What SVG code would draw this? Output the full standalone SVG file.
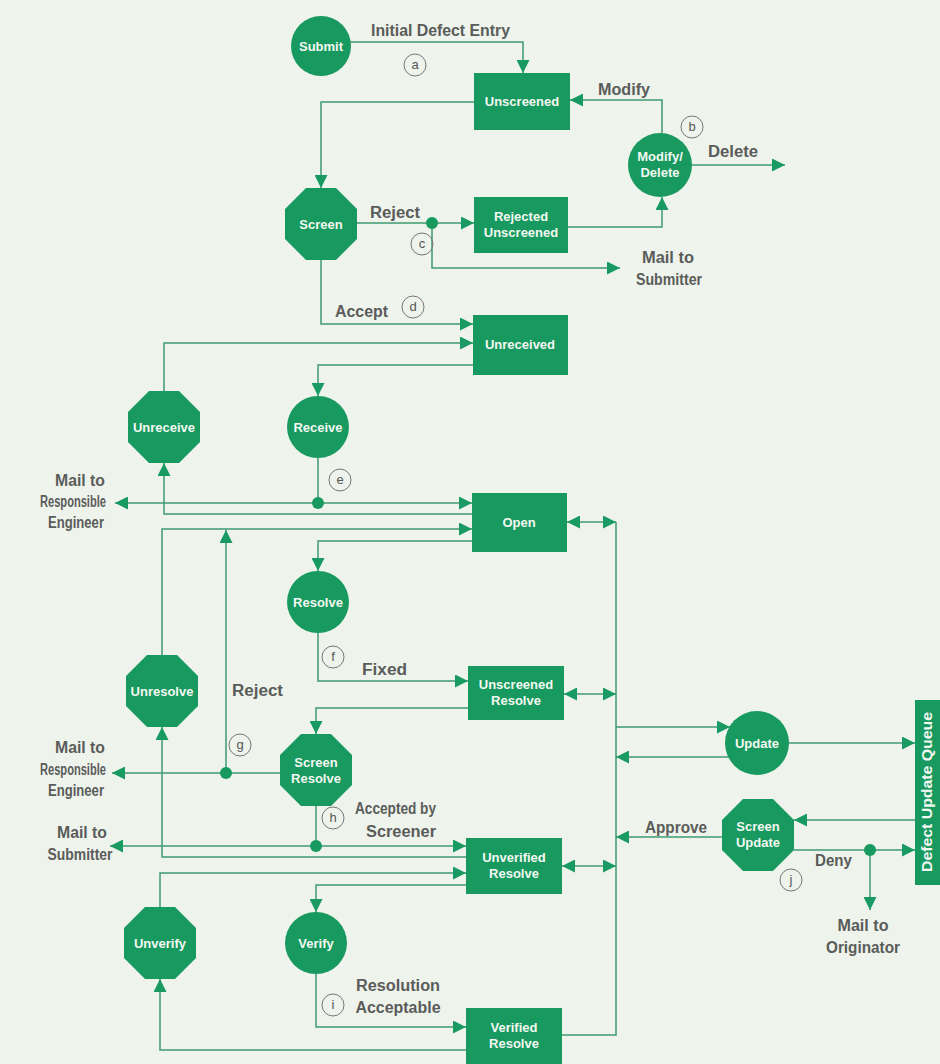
<svg xmlns="http://www.w3.org/2000/svg" width="940" height="1064" viewBox="0 0 940 1064">
<style>
.nd{fill:#17995f}
.nt{fill:#f4f8f2;font-family:"Liberation Sans Narrow","Liberation Sans",Arial,sans-serif;font-weight:bold;font-size:13px;text-anchor:middle}
.lb{fill:#5a5c5a;font-family:"Liberation Sans Narrow","Liberation Sans",Arial,sans-serif;font-weight:bold;font-size:16px}
.mid{text-anchor:middle}
.ln{fill:none;stroke:#3f9a70;stroke-width:1.5}
.ar{marker-end:url(#ah)}
.da{marker-start:url(#ah);marker-end:url(#ah)}
.dot{fill:#17995f}
.lc{fill:none;stroke:#777;stroke-width:1}
.lt{fill:#555;font-family:"Liberation Sans",Arial,sans-serif;font-size:13px;text-anchor:middle}
</style>
<defs>
<marker id="ah" markerUnits="userSpaceOnUse" markerWidth="13" markerHeight="13" refX="12" refY="6" orient="auto-start-reverse" viewBox="0 0 12 12">
<path d="M0,0 L12,6 L0,12 z" fill="#1a9a63"/>
</marker>
</defs>
<rect width="940" height="1064" fill="#eef3ec"/>

<g id="connectors">
<path class="ln ar" d="M350,42 H523 V73"/>
<path class="ln ar" d="M474,102 H321 V188"/>
<path class="ln ar" d="M662,133 V100 H570"/>
<path class="ln ar" d="M692,165 H785"/>
<path class="ln ar" d="M357,223 H474"/>
<path class="ln ar" d="M568,227 H662 V197"/>
<path class="ln ar" d="M432,223 V268 H620"/>
<path class="ln ar" d="M321,260 V324 H473"/>
<path class="ln ar" d="M164,391 V343 H473"/>
<path class="ln ar" d="M473,365 H318 V396"/>
<path class="ln" d="M318,458 V503"/>
<path class="ln ar" d="M318,503 H472"/>
<path class="ln ar" d="M318,503 H115"/>
<path class="ln ar" d="M472,514 H164 V463"/>
<path class="ln ar" d="M162,655 V529 H472"/>
<path class="ln ar" d="M226,773 V530"/>
<path class="ln ar" d="M472,541 H318 V571"/>
<path class="ln ar" d="M318,633 V681 H468"/>
<path class="ln ar" d="M468,708 H316 V734"/>
<path class="ln ar" d="M280,773 H112"/>
<path class="ln" d="M316,806 V846"/>
<path class="ln ar" d="M316,846 H466"/>
<path class="ln ar" d="M316,846 H110"/>
<path class="ln ar" d="M466,857 H162 V727"/>
<path class="ln ar" d="M160,907 V873 H466"/>
<path class="ln ar" d="M466,885 H316 V912"/>
<path class="ln ar" d="M316,974 V1027 H466"/>
<path class="ln ar" d="M466,1050 H160 V979"/>
<path class="ln" d="M562,1035 H616 V522"/>
<path class="ln da" d="M567,522 H616"/>
<path class="ln da" d="M564,694 H616"/>
<path class="ln da" d="M562,866 H616"/>
<path class="ln ar" d="M616,727 H730"/>
<path class="ln ar" d="M730,757 H616"/>
<path class="ln ar" d="M789,743 H915"/>
<path class="ln ar" d="M915,820 H794"/>
<path class="ln ar" d="M722,837 H616"/>
<path class="ln ar" d="M794,850 H915"/>
<path class="ln ar" d="M870,850 V910"/>
<circle class="dot" cx="432" cy="223" r="6"/>
<circle class="dot" cx="318" cy="503" r="6"/>
<circle class="dot" cx="226" cy="773" r="6"/>
<circle class="dot" cx="316" cy="846" r="6"/>
<circle class="dot" cx="870" cy="850" r="6"/>
</g>

<g id="labels">
<text class="lb" x="371" y="36" textLength="139" lengthAdjust="spacingAndGlyphs">Initial Defect Entry</text>
<text class="lb" x="598" y="95" textLength="52" lengthAdjust="spacingAndGlyphs">Modify</text>
<text class="lb" x="708" y="157" textLength="50" lengthAdjust="spacingAndGlyphs">Delete</text>
<text class="lb" x="370" y="218" textLength="50" lengthAdjust="spacingAndGlyphs">Reject</text>
<text class="lb mid" x="668" y="263" textLength="52" lengthAdjust="spacingAndGlyphs">Mail to</text>
<text class="lb mid" x="669" y="285" textLength="66" lengthAdjust="spacingAndGlyphs">Submitter</text>
<text class="lb" x="335" y="317" textLength="53" lengthAdjust="spacingAndGlyphs">Accept</text>
<text class="lb mid" x="80" y="486" textLength="50" lengthAdjust="spacingAndGlyphs">Mail to</text>
<text class="lb mid" x="73" y="507" textLength="66" lengthAdjust="spacingAndGlyphs">Responsible</text>
<text class="lb mid" x="76" y="528" textLength="56" lengthAdjust="spacingAndGlyphs">Engineer</text>
<text class="lb" x="362" y="675" textLength="45" lengthAdjust="spacingAndGlyphs">Fixed</text>
<text class="lb" x="232" y="696" textLength="51" lengthAdjust="spacingAndGlyphs">Reject</text>
<text class="lb mid" x="80" y="753" textLength="50" lengthAdjust="spacingAndGlyphs">Mail to</text>
<text class="lb mid" x="73" y="775" textLength="66" lengthAdjust="spacingAndGlyphs">Responsible</text>
<text class="lb mid" x="76" y="796" textLength="56" lengthAdjust="spacingAndGlyphs">Engineer</text>
<text class="lb" x="355" y="814" textLength="81" lengthAdjust="spacingAndGlyphs">Accepted by</text>
<text class="lb mid" x="401" y="837" textLength="70" lengthAdjust="spacingAndGlyphs">Screener</text>
<text class="lb mid" x="82" y="838" textLength="50" lengthAdjust="spacingAndGlyphs">Mail to</text>
<text class="lb mid" x="80" y="860" textLength="65" lengthAdjust="spacingAndGlyphs">Submitter</text>
<text class="lb mid" x="398" y="991" textLength="84" lengthAdjust="spacingAndGlyphs">Resolution</text>
<text class="lb mid" x="398" y="1013" textLength="85" lengthAdjust="spacingAndGlyphs">Acceptable</text>
<text class="lb" x="645" y="833" textLength="62" lengthAdjust="spacingAndGlyphs">Approve</text>
<text class="lb" x="815" y="866" textLength="37" lengthAdjust="spacingAndGlyphs">Deny</text>
<text class="lb mid" x="863" y="931" textLength="51" lengthAdjust="spacingAndGlyphs">Mail to</text>
<text class="lb mid" x="863" y="953" textLength="74" lengthAdjust="spacingAndGlyphs">Originator</text>
</g>

<g id="markers-letters">
<circle class="lc" cx="415" cy="65" r="11"/><text class="lt" x="415" y="69">a</text>
<circle class="lc" cx="692" cy="127" r="11"/><text class="lt" x="692" y="131">b</text>
<circle class="lc" cx="422" cy="244" r="11"/><text class="lt" x="422" y="248">c</text>
<circle class="lc" cx="413" cy="307" r="11"/><text class="lt" x="413" y="311">d</text>
<circle class="lc" cx="340" cy="480" r="11"/><text class="lt" x="340" y="484">e</text>
<circle class="lc" cx="333" cy="657" r="11"/><text class="lt" x="333" y="661">f</text>
<circle class="lc" cx="240" cy="745" r="11"/><text class="lt" x="240" y="749">g</text>
<circle class="lc" cx="333" cy="818" r="11"/><text class="lt" x="333" y="822">h</text>
<circle class="lc" cx="333" cy="1005" r="11"/><text class="lt" x="333" y="1009">i</text>
<circle class="lc" cx="791" cy="880" r="11"/><text class="lt" x="791" y="884">j</text>
</g>

<g id="submit"><circle class="nd" cx="321" cy="46" r="30"/><text class="nt" x="321" y="51">Submit</text></g>
<g id="unscreened"><rect class="nd" x="474" y="73" width="96" height="57"/><text class="nt" x="522" y="106">Unscreened</text></g>
<g id="modify-delete"><circle class="nd" cx="660" cy="165" r="32"/><text class="nt" x="660" y="161">Modify/</text><text class="nt" x="660" y="177">Delete</text></g>
<g id="screen"><polygon class="nd" points="306,188 336,188 357,209 357,239 336,260 306,260 285,239 285,209"/><text class="nt" x="321" y="229">Screen</text></g>
<g id="rejected-unscreened"><rect class="nd" x="474" y="197" width="94" height="56"/><text class="nt" x="521" y="221">Rejected</text><text class="nt" x="521" y="237">Unscreened</text></g>
<g id="unreceived"><rect class="nd" x="473" y="315" width="95" height="60"/><text class="nt" x="520" y="349">Unreceived</text></g>
<g id="unreceive"><polygon class="nd" points="149,391 179,391 200,412 200,442 179,463 149,463 128,442 128,412"/><text class="nt" x="164" y="432">Unreceive</text></g>
<g id="receive"><circle class="nd" cx="318" cy="427" r="31"/><text class="nt" x="318" y="432">Receive</text></g>
<g id="open"><rect class="nd" x="472" y="493" width="95" height="59"/><text class="nt" x="519" y="527">Open</text></g>
<g id="resolve"><circle class="nd" cx="318" cy="602" r="31"/><text class="nt" x="318" y="607">Resolve</text></g>
<g id="unresolve"><polygon class="nd" points="147,655 177,655 198,676 198,706 177,727 147,727 126,706 126,676"/><text class="nt" x="162" y="696">Unresolve</text></g>
<g id="unscreened-resolve"><rect class="nd" x="468" y="666" width="96" height="54"/><text class="nt" x="516" y="689">Unscreened</text><text class="nt" x="516" y="705">Resolve</text></g>
<g id="screen-resolve"><polygon class="nd" points="301,734 331,734 352,755 352,785 331,806 301,806 280,785 280,755"/><text class="nt" x="316" y="767">Screen</text><text class="nt" x="316" y="783">Resolve</text></g>
<g id="unverified-resolve"><rect class="nd" x="466" y="838" width="96" height="56"/><text class="nt" x="514" y="862">Unverified</text><text class="nt" x="514" y="878">Resolve</text></g>
<g id="unverify"><polygon class="nd" points="145,907 175,907 196,928 196,958 175,979 145,979 124,958 124,928"/><text class="nt" x="160" y="948">Unverify</text></g>
<g id="verify"><circle class="nd" cx="316" cy="943" r="31"/><text class="nt" x="316" y="948">Verify</text></g>
<g id="verified-resolve"><rect class="nd" x="466" y="1008" width="96" height="56"/><text class="nt" x="514" y="1032">Verified</text><text class="nt" x="514" y="1048">Resolve</text></g>
<g id="update"><circle class="nd" cx="757" cy="743" r="32"/><text class="nt" x="757" y="748">Update</text></g>
<g id="screen-update"><polygon class="nd" points="743,799 773,799 794,820 794,850 773,871 743,871 722,850 722,820"/><text class="nt" x="758" y="831">Screen</text><text class="nt" x="758" y="847">Update</text></g>
<g id="defect-update-queue"><rect class="nd" x="915" y="700" width="25" height="185"/><text class="nt" transform="translate(932,792) rotate(-90)" x="0" y="0" textLength="160" lengthAdjust="spacingAndGlyphs" style="font-size:14px">Defect Update Queue</text></g>
</svg>
